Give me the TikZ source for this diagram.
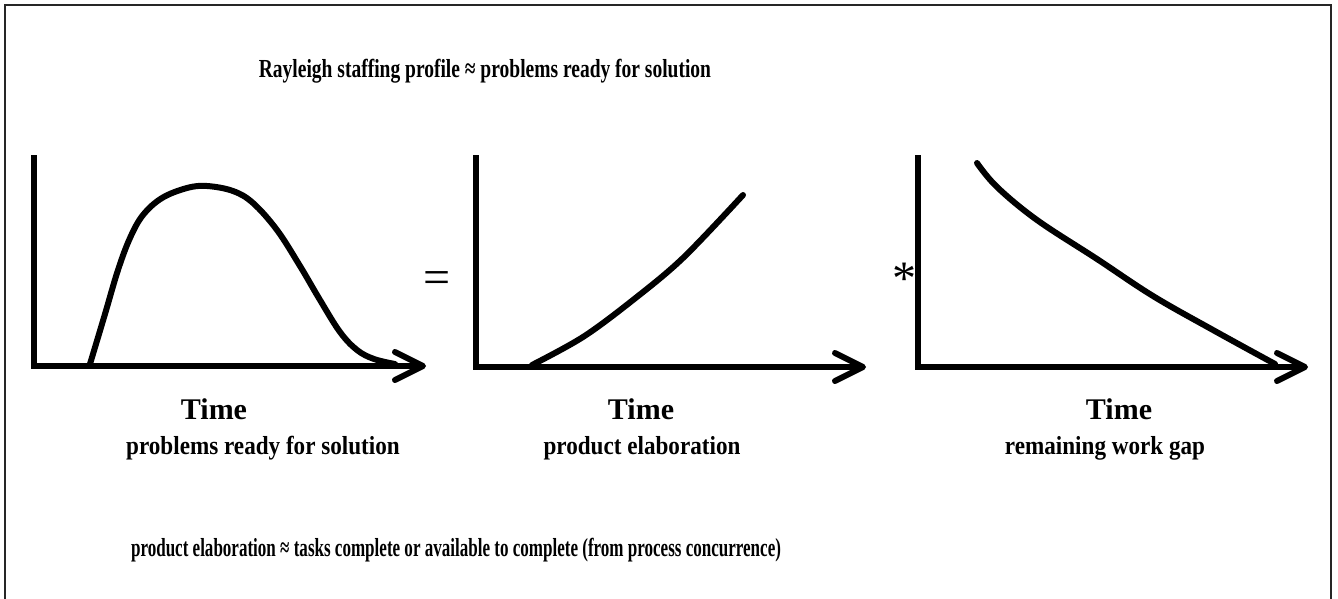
\documentclass[tikz,border=0pt]{standalone}
\usepackage{fontspec}
\usepackage{graphicx}
\setmainfont{Liberation Serif}
\usetikzlibrary{calc}
% horizontally condensed text
\newcommand\squeezed[2]{\scalebox{#1}[1]{#2}}
\begin{document}
\begin{tikzpicture}[x=1pt,y=-1pt,
  frame/.style={line width=2pt, draw=black!85},
  axis/.style={line width=6pt, line join=miter},
  barb/.style={line width=6pt, line cap=round, line join=round},
  curve/.style={line width=6pt, line cap=round, line join=round},
  timelbl/.style={font=\bfseries\fontsize{30}{30}\selectfont, anchor=base, inner sep=0pt},
  sublbl/.style={font=\bfseries\fontsize{26}{26}\selectfont, anchor=base, inner sep=0pt},
  headlbl/.style={font=\bfseries\fontsize{26}{26}\selectfont, anchor=base, inner sep=0pt},
  oplbl/.style={font=\fontsize{48}{48}\selectfont, inner sep=0pt},
]
\useasboundingbox (0,0) rectangle (1338,598);
\fill[white] (0,0) rectangle (1338,598);
\draw[frame] (5,5) rectangle (1331,620);

% title
\node[headlbl] (title) at (485,77) {\squeezed{0.75}{Rayleigh staffing profile ≈ problems ready for solution}};

% ---- chart 1: Rayleigh curve
\coordinate (a1top) at (34,155);
\coordinate (a1o) at (34,366);
\coordinate (a1tip) at (423,366);
\draw[axis] (a1top) -- (a1o) -- (a1tip);
\draw[barb] ($(a1tip)+(-28,-14)$) -- (a1tip) -- ($(a1tip)+(-28,14)$);
\draw[curve] plot[smooth, tension=0.6] coordinates {
  (90,364) (105,314) (118,270) (130,238) (143,215) (162,198) (187,188)
  (207,186) (233,191) (253,203) (277,230) (300,266) (320,300) (340,332)
  (357,350) (374,359) (395,364)};

\node[oplbl] (eq) at (437,283) {=};

% ---- chart 2: product elaboration
\coordinate (a2top) at (476,155);
\coordinate (a2o) at (476,367);
\coordinate (a2tip) at (863,367);
\draw[axis] (a2top) -- (a2o) -- (a2tip);
\draw[barb] ($(a2tip)+(-28,-14)$) -- (a2tip) -- ($(a2tip)+(-28,14)$);
\draw[curve] plot[smooth, tension=0.55] coordinates {
  (532,365) (583,337) (633,300) (683,258) (743,195)};

\node[oplbl] (mul) at (904,279) {*};

% ---- chart 3: remaining work gap
\coordinate (a3top) at (918,155);
\coordinate (a3o) at (918,367);
\coordinate (a3tip) at (1305,367);
\draw[axis] (a3top) -- (a3o) -- (a3tip);
\draw[barb] ($(a3tip)+(-28,-14)$) -- (a3tip) -- ($(a3tip)+(-28,14)$);
\draw[curve] plot[smooth, tension=0.6] coordinates {
  (977,163) (997,187) (1037,220) (1097,259) (1153,296) (1213,330) (1275,364)};

% axis labels
\node[timelbl] (t1) at (214,419) {Time};
\node[timelbl] (t2) at (641,419) {Time};
\node[timelbl] (t3) at (1119,419) {Time};

% chart captions
\node[sublbl] (c1) at (263,454) {\squeezed{0.89}{problems ready for solution}};
\node[sublbl] (c2) at (642,454) {\squeezed{0.89}{product elaboration}};
\node[sublbl] (c3) at (1105,454) {\squeezed{0.89}{remaining work gap}};

% footnote
\node[headlbl] (foot) at (456,556) {\squeezed{0.655}{product elaboration ≈ tasks complete or available to complete (from process concurrence)}};
\end{tikzpicture}
\end{document}
